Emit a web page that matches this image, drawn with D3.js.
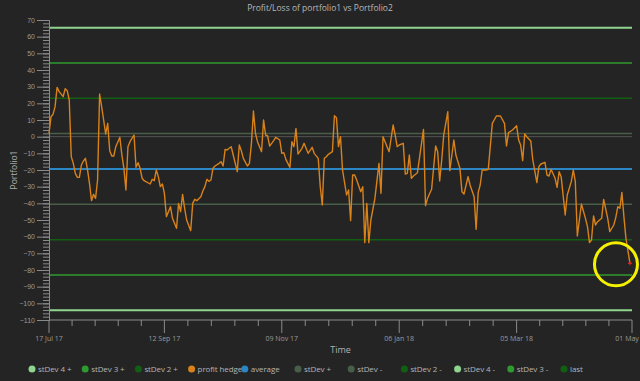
<!DOCTYPE html>
<html>
<head>
<meta charset="utf-8">
<script src="https://cdn.jsdelivr.net/npm/d3@7"></script>
<style>
  body { margin: 0; background: #242424; }
  svg { display: block; font-family: 'Open Sans', 'Noto Sans', sans-serif; }
</style>
</head>
<body>
<div class="chart"></div>
<script>
// Data
const dates = [
  '2017-07-17','2017-07-18','2017-07-19','2017-07-20','2017-07-21','2017-07-22','2017-07-24','2017-07-25','2017-07-26','2017-07-27',
  '2017-07-28','2017-07-29','2017-07-30','2017-07-31','2017-08-01','2017-08-02','2017-08-03','2017-08-04','2017-08-05','2017-08-06',
  '2017-08-07','2017-08-08','2017-08-09','2017-08-10','2017-08-11','2017-08-12','2017-08-13','2017-08-14','2017-08-15','2017-08-16',
  '2017-08-17','2017-08-18','2017-08-19','2017-08-21','2017-08-22','2017-08-23','2017-08-24','2017-08-25','2017-08-26','2017-08-28',
  '2017-08-29','2017-08-30','2017-08-31','2017-09-01','2017-09-02','2017-09-05','2017-09-06','2017-09-07','2017-09-08','2017-09-09',
  '2017-09-10','2017-09-11','2017-09-12','2017-09-13','2017-09-15','2017-09-16','2017-09-18','2017-09-19','2017-09-20','2017-09-21',
  '2017-09-22','2017-09-23','2017-09-25','2017-09-26','2017-09-27','2017-09-28','2017-09-30','2017-10-01','2017-10-02','2017-10-03',
  '2017-10-04','2017-10-05','2017-10-06','2017-10-07','2017-10-09','2017-10-10','2017-10-11','2017-10-12','2017-10-13','2017-10-14',
  '2017-10-15','2017-10-16','2017-10-18','2017-10-19','2017-10-20','2017-10-21','2017-10-23','2017-10-24','2017-10-25','2017-10-26',
  '2017-10-27','2017-10-28','2017-10-29','2017-10-30','2017-10-31','2017-11-01','2017-11-02','2017-11-03','2017-11-04','2017-11-05',
  '2017-11-06','2017-11-08','2017-11-09','2017-11-10','2017-11-11','2017-11-13','2017-11-14','2017-11-15','2017-11-16','2017-11-17',
  '2017-11-19','2017-11-20','2017-11-22','2017-11-24','2017-11-25','2017-11-27','2017-11-28','2017-11-29','2017-11-30','2017-12-01',
  '2017-12-02','2017-12-04','2017-12-05','2017-12-06','2017-12-07','2017-12-08','2017-12-09','2017-12-11','2017-12-12','2017-12-13',
  '2017-12-14','2017-12-15','2017-12-16','2017-12-18','2017-12-19','2017-12-20','2017-12-21','2017-12-22','2017-12-23','2017-12-25',
  '2017-12-27','2017-12-28','2017-12-29','2017-12-30','2018-01-01','2018-01-03','2018-01-04','2018-01-05','2018-01-06','2018-01-08',
  '2018-01-09','2018-01-10','2018-01-11','2018-01-12','2018-01-13','2018-01-15','2018-01-18','2018-01-19','2018-01-20','2018-01-22',
  '2018-01-24','2018-01-25','2018-01-26','2018-01-27','2018-01-28','2018-01-30','2018-01-31','2018-02-02','2018-02-03','2018-02-05',
  '2018-02-06','2018-02-07','2018-02-09','2018-02-10','2018-02-12','2018-02-13','2018-02-14','2018-02-15','2018-02-16','2018-02-18',
  '2018-02-19','2018-02-21','2018-02-23','2018-02-25','2018-02-27','2018-02-28','2018-03-01','2018-03-03','2018-03-05','2018-03-06',
  '2018-03-07','2018-03-08','2018-03-09','2018-03-10','2018-03-12','2018-03-13','2018-03-15','2018-03-16','2018-03-17','2018-03-19',
  '2018-03-20','2018-03-21','2018-03-22','2018-03-24','2018-03-25','2018-03-26','2018-03-27','2018-03-29','2018-03-30','2018-04-01',
  '2018-04-02','2018-04-03','2018-04-04','2018-04-06','2018-04-08','2018-04-09','2018-04-10','2018-04-11','2018-04-12','2018-04-13',
  '2018-04-14','2018-04-16','2018-04-17','2018-04-19','2018-04-20','2018-04-22','2018-04-23','2018-04-24','2018-04-25','2018-04-26',
  '2018-04-27','2018-04-28','2018-04-30'
]

const profitHedge = [
  2, 12, 13.4, 18, 29.6, 27, 24, 28.8, 27.6, 22,
  -12, -16, -22, -24.4, -24.4, -17, -14.6, -13, -19.6, -28,
  -38.4, -34.6, -37, -26, 25.6, 18, 10, 1.6, 8, -8.4,
  -11.6, -11.6, -6, -0.4, -11, -19, -32, -6, -3, 1,
  -18.4, -15.6, -19, -25, -26.4, -28.4, -25.6, -26.4, -20, -24,
  -30, -28.4, -34, -48, -42, -49, -55, -40, -45, -34.6,
  -43, -50, -56.4, -40, -37.6, -38.4, -36, -32.6, -30, -25.6,
  -26.8, -26, -19, -17.6, -16, -15, -17.6, -7.6, -8, -7,
  -6, -11, -21, -5, -8.4, -13, -17.6, -16, -4, 15.4,
  2, -3, -6, -9, 10, 1, 0.4, -5.6, -4, -2.4,
  -0.4, -2, -10, -9.6, -13.6, -18.4, -3, -6, 5, -10.4,
  -7, -4, -10, -6.4, -10, -13, -30, -41, -13, -12,
  -10.6, -9, 12.6, 11.4, -6, 0, -20, -35, -32, -50.4,
  -23, -23, -26, -33, -30, -63.6, -40, -63.6, -50, -37,
  -16, -34, 0, -3, -9, 7, 1, -6, -5, -4,
  -22.4, -22, -11, -25, -23.6, -21.6, 4.4, -41.4, -37, -31.6,
  -5.6, -9, -26.6, -14, 1, 15, -20.4, -2, -11, -19,
  -33, -34.4, -24, -29, -36, -55.6, -33.6, -29, -20, -20,
  -19.6, 8, 12.4, 12.4, 8, -5.6, 2.4, 4, 6.6, -2,
  -5, -14.4, 1.6, 0, -2.6, -14, -27.6, -18, -16.4, -15.4,
  -23, -23.6, -19.6, -25, -30.4, -21, -24, -47, -35, -27,
  -20, -27, -59.6, -40.4, -49, -54, -63.6, -62, -47.6, -53,
  -51, -49, -37.6, -49, -57, -53, -48.4, -42, -43, -33.4,
  -48, -61, -76
]

const average = -19.4
const bandNames = ['stDev 4 +', 'stDev 3 +', 'stDev 2 +', 'stDev +', 'stDev -', 'stDev 2 -', 'stDev 3 -', 'stDev 4 -']
const bandValues = [65.3, 44.2, 23.0, 1.9, -40.6, -61.8, -83.0, -104.2]
const bandColors = ['#8fd48f', '#2f9a2f', '#115f11', '#485e48', '#485e48', '#115f11', '#2f9a2f', '#8fd48f']

const legendNames = ['stDev 4 +', 'stDev 3 +', 'stDev 2 +', 'profit hedge', 'average', 'stDev +', 'stDev -', 'stDev 2 -', 'stDev 4 -', 'stDev 3 -', 'last']
const legendColors = ['#8fd48f', '#2f9a2f', '#115f11', '#d9821a', '#2a86c4', '#485e48', '#485e48', '#115f11', '#8fd48f', '#2f9a2f', '#115f11']

const yTicks = [70, 60, 50, 40, 30, 20, 10, 0, -10, -20, -30, -40, -50, -60, -70, -80, -90, -100, -110]
const xTickDates = ['2017-07-17', '2017-09-12', '2017-11-09', '2018-01-06', '2018-03-05', '2018-05-01']
const xTickLabels = ['17 Jul 17', '12 Sep 17', '09 Nov 17', '06 Jan 18', '05 Mar 18', '01 May 18']

const _parse = d3.timeParse('%Y-%m-%d')
const _data = dates.map((d, i) => ({ date: _parse(d), value: profitHedge[i] }))

// Dimensions
const dims = { width: 640, height: 381, left: 49, right: 632, top: 20, bottom: 320 }

const _xScale = d3.scaleTime()
  .domain([_parse(xTickDates[0]), _parse(xTickDates[xTickDates.length - 1])])
  .range([dims.left, dims.right])

const _yScale = d3.scaleLinear()
  .domain([-110, 70])
  .range([dims.bottom, dims.top])

const _svg = d3.select('.chart')
  .append('svg')
  .attr('width', dims.width)
  .attr('height', dims.height)

_svg.append('rect')
  .attr('width', dims.width)
  .attr('height', dims.height)
  .attr('fill', '#242424')

// title
_svg.append('text')
  .text('Profit/Loss of portfolio1 vs Portfolio2')
  .attr('x', dims.width / 2)
  .attr('y', 11)
  .attr('text-anchor', 'middle')
  .attr('fill', '#b8b8b8')
  .style('font-size', '8.5px')

// zero line
_svg.append('line')
  .attr('x1', dims.left).attr('x2', dims.right)
  .attr('y1', _yScale(0)).attr('y2', _yScale(0))
  .attr('stroke', '#555').attr('stroke-width', 1)

// stDev bands
_svg.append('g')
  .selectAll('line')
  .data(bandValues)
  .join('line')
  .attr('x1', dims.left)
  .attr('x2', dims.right)
  .attr('y1', d => _yScale(d))
  .attr('y2', d => _yScale(d))
  .attr('stroke', (d, i) => bandColors[i])
  .attr('stroke-width', (d, i) => (i === 0 || i === 7) ? 2 : 1.5)

// average
_svg.append('line')
  .attr('x1', dims.left).attr('x2', dims.right)
  .attr('y1', _yScale(average)).attr('y2', _yScale(average))
  .attr('stroke', '#2a86c4').attr('stroke-width', 2)

// profit hedge line
const lineGen = d3.line()
  .x(d => _xScale(d.date))
  .y(d => _yScale(d.value))

_svg.append('path')
  .datum(_data)
  .attr('d', lineGen)
  .attr('fill', 'none')
  .attr('stroke', '#d9821a')
  .attr('stroke-width', 1.4)
  .attr('stroke-linejoin', 'round')

// last point marker
const _last = _data[_data.length - 1]
const lx = _xScale(_last.date), ly = _yScale(_last.value)
_svg.append('path')
  .attr('d', `M${lx - 2},${ly}H${lx + 2}M${lx},${ly - 2}V${ly + 2}`)
  .attr('stroke', '#e02020').attr('stroke-width', 1.2)

// highlight ring around last value
_svg.append('circle')
  .attr('cx', lx - 14)
  .attr('cy', ly + 1)
  .attr('r', 21.5)
  .attr('fill', 'none')
  .attr('stroke', '#f5f000')
  .attr('stroke-width', 3)

// y axis
const axisColor = '#8a8a8a'
const yAxisG = _svg.append('g')
  .attr('transform', `translate(${dims.left},0)`)
  .call(d3.axisLeft(_yScale).tickValues(d3.range(-110, 71, 2)).tickSize(6).tickFormat(''))
yAxisG.append('g')
  .call(d3.axisLeft(_yScale).tickValues(yTicks).tickSize(12).tickPadding(2))
yAxisG.selectAll('path, line').attr('stroke', axisColor)
yAxisG.selectAll('text').attr('fill', '#9a9a9a').style('font-size', '7px').style('font-family', 'inherit')

// x axis
const majorX = xTickDates.map(d => _xScale(_parse(d)))
const minorX = []
majorX.slice(0, -1).forEach((x0, i) => {
  const x1 = majorX[i + 1]
  for (let k = 1; k < 5; k++) minorX.push(x0 + (x1 - x0) * k / 5)
})
const xAxisG = _svg.append('g')
xAxisG.append('line')
  .attr('x1', dims.left).attr('x2', dims.right)
  .attr('y1', dims.bottom).attr('y2', dims.bottom)
  .attr('stroke', axisColor)
xAxisG.selectAll('.minor')
  .data(minorX)
  .join('line')
  .attr('x1', d => d).attr('x2', d => d)
  .attr('y1', dims.bottom).attr('y2', dims.bottom + 6)
  .attr('stroke', axisColor)
xAxisG.selectAll('.major')
  .data(majorX)
  .join('line')
  .attr('x1', d => d).attr('x2', d => d)
  .attr('y1', dims.bottom).attr('y2', dims.bottom + 13)
  .attr('stroke', axisColor)
xAxisG.selectAll('text')
  .data(xTickLabels)
  .join('text')
  .text(d => d)
  .attr('x', (d, i) => majorX[i])
  .attr('y', dims.bottom + 21)
  .attr('text-anchor', 'middle')
  .attr('fill', '#9a9a9a')
  .style('font-size', '7px')

// axis labels
_svg.append('text')
  .text('Time')
  .attr('x', (dims.left + dims.right) / 2)
  .attr('y', 353)
  .attr('text-anchor', 'middle')
  .attr('fill', '#b0b0b0')
  .style('font-size', '9px')

_svg.append('text')
  .text('Portfolio1')
  .attr('transform', `translate(17,${(dims.top + dims.bottom) / 2}) rotate(-90)`)
  .attr('text-anchor', 'middle')
  .attr('fill', '#b0b0b0')
  .style('font-size', '8.5px')

// legend
const legend = _svg.append('g')
  .selectAll('g')
  .data(legendNames)
  .join('g')
  .attr('transform', (d, i) => `translate(${32 + i * 53.2},369)`)
legend.append('circle')
  .attr('r', 3.5)
  .attr('fill', (d, i) => legendColors[i])
legend.append('text')
  .text(d => d)
  .attr('x', 6)
  .attr('y', 3)
  .attr('fill', '#b4b4b4')
  .style('font-size', '8px')
  .style('letter-spacing', '-0.1px')
</script>
</body>
</html>
